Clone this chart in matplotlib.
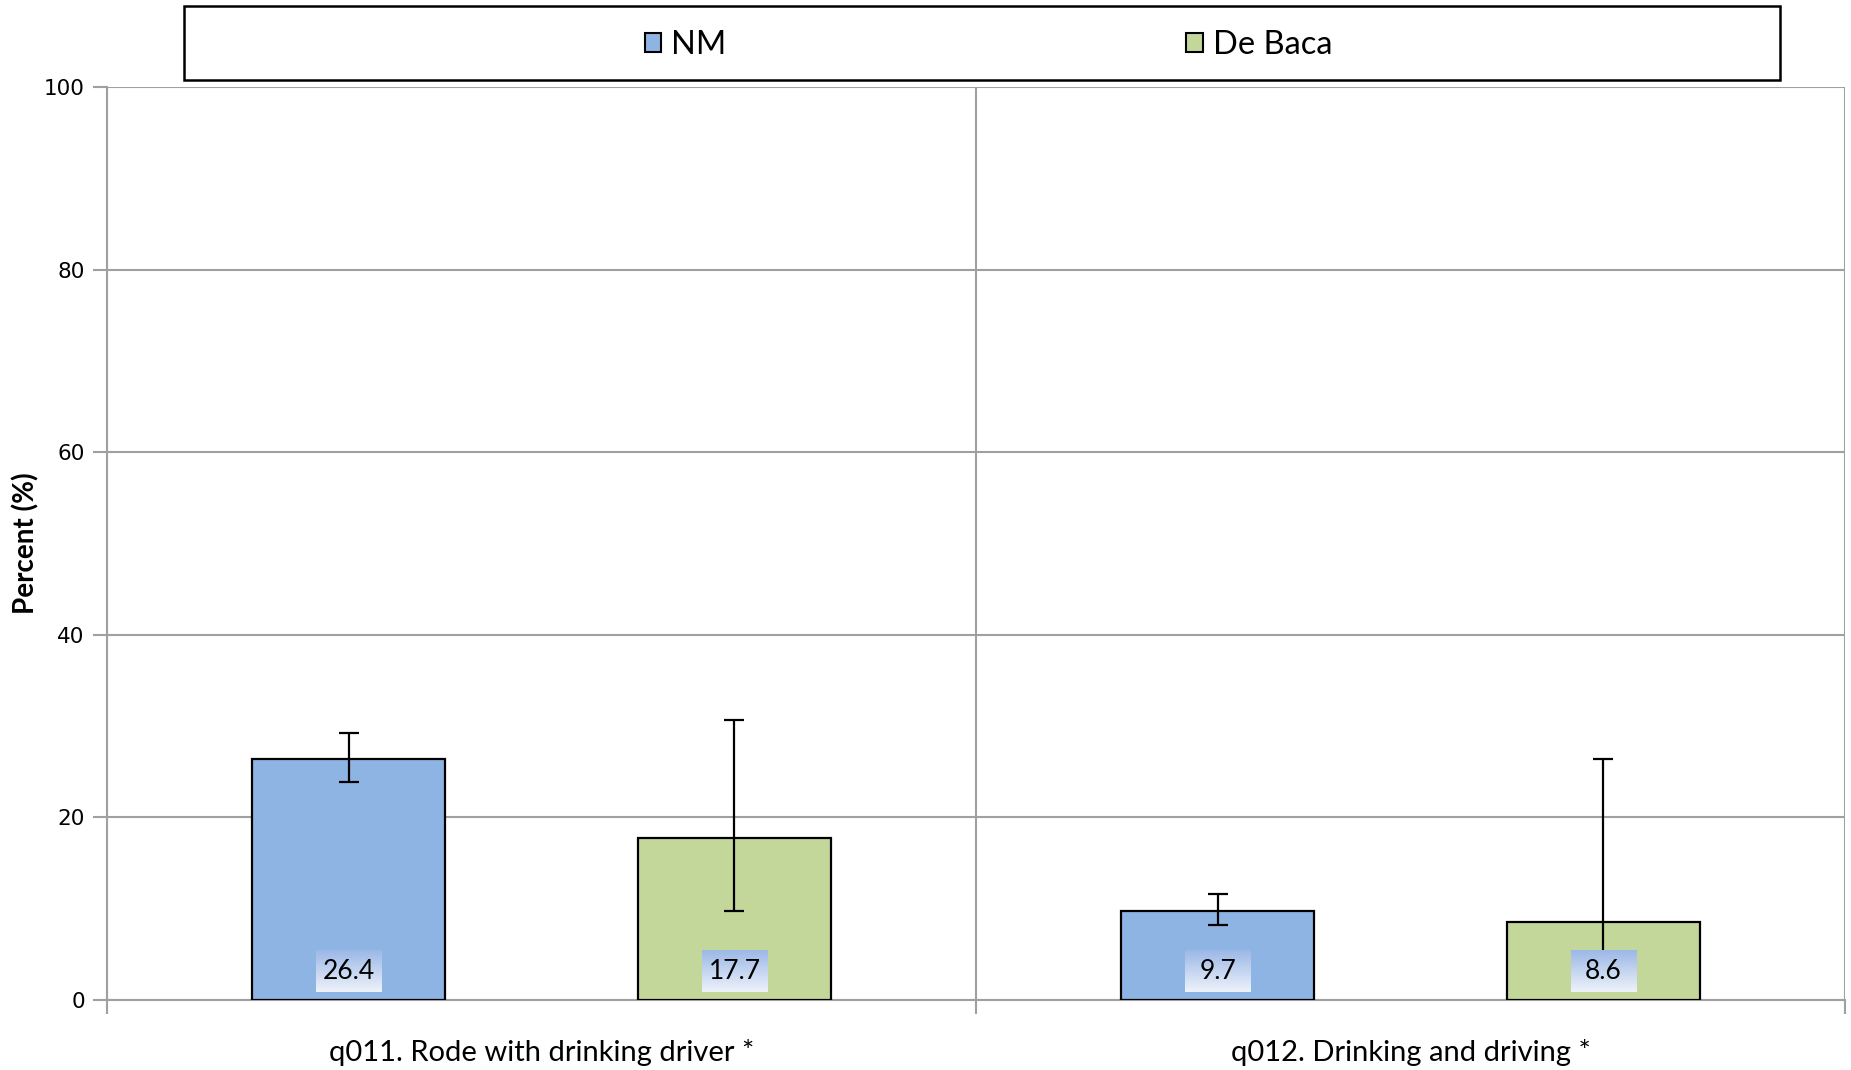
import matplotlib.pyplot as plt
import numpy as np
from matplotlib.patches import Rectangle

# %% data
categories = ["q011. Rode with drinking driver *", "q012. Drinking and driving *"]
series = ["NM", "De Baca"]
nm_values = [26.4, 9.7]
nm_lower = [23.9, 8.2]
nm_upper = [29.2, 11.6]
debaca_values = [17.7, 8.6]
debaca_lower = [9.7, 2.0]
debaca_upper = [30.7, 26.4]
yticks = [0, 20, 40, 60, 80, 100]

colors = ["#8EB4E3", "#C4D79B"]
grid_c = "#A0A0A0"
label_font = "Lato"

# %% plot
fig = plt.figure(figsize=(18.51, 10.70), dpi=100)
ax = fig.add_axes([0.0578, 0.0654, 0.939, 0.8533])

x = np.arange(len(categories))
width = 0.2215
offset = 0.222
groups = [
    (nm_values, nm_lower, nm_upper, -offset, colors[0], series[0]),
    (debaca_values, debaca_lower, debaca_upper, offset, colors[1], series[1]),
]

grad = np.linspace(0, 1, 64).reshape(-1, 1)
cmap = plt.matplotlib.colors.LinearSegmentedColormap.from_list(
    "g", ["#eef2fb", "#9bb8e6"])

for vals, lo, hi, off, col, name in groups:
    vals = np.array(vals)
    err = np.array([vals - np.array(lo), np.array(hi) - vals])
    ax.bar(x + off, vals, width, color=col, edgecolor="black", linewidth=1.6,
           label=name, zorder=3)
    ax.errorbar(x + off, vals, yerr=err, fmt="none", ecolor="black",
                elinewidth=1.6, capsize=7, capthick=1.6, zorder=4)
    # value labels with gradient box
    for xi, v in zip(x + off, vals):
        ax.imshow(grad, cmap=cmap, aspect="auto", origin="lower",
                  extent=[xi - 0.0375, xi + 0.0375, 0.9, 5.4], zorder=5)
        ax.text(xi, 3.1, f"{v:.1f}", ha="center", va="center", fontsize=19,
                family=label_font, zorder=6)

ax.set_xlim(-0.5, 1.5)
ax.set_ylim(0, 100)
ax.set_yticks(yticks)
ax.tick_params(axis="y", labelsize=15.5, length=10, color=grid_c, width=1.5, pad=6)
ax.set_xticks(x)
ax.set_xticklabels(categories, fontsize=21, family=label_font)
ax.tick_params(axis="x", which="major", length=0, pad=28)
ax.set_xticks([-0.5, 0.5, 1.5], minor=True)
ax.tick_params(axis="x", which="minor", length=10, color=grid_c, width=1.5)

ax.grid(axis="y", color=grid_c, linewidth=1.5, zorder=0)
ax.grid(axis="x", which="minor", color=grid_c, linewidth=1.5, zorder=0)
for side in ["top", "right"]:
    ax.spines[side].set_visible(False)
for side in ["left", "bottom"]:
    ax.spines[side].set_color(grid_c)
    ax.spines[side].set_linewidth(1.5)
ax.set_axisbelow(True)

ax.set_ylabel("Percent (%)", fontsize=20, fontweight="bold", family=label_font)
ax.yaxis.set_label_coords(-0.039, 0.5)

# legend box
fig.patches.append(Rectangle((0.0994, 0.925), 0.8623, 0.0692, transform=fig.transFigure,
                             facecolor="white", edgecolor="black", linewidth=1.8))
leg = fig.legend(loc="center", bbox_to_anchor=(0.534, 0.958), ncol=2, frameon=False,
                 handlelength=0.51, handleheight=0.51, handletextpad=0.3,
                 columnspacing=14.1, prop={"family": label_font, "size": 23.5})
for h in leg.legend_handles:
    h.set_linewidth(1.5)

fig.savefig("out.png", dpi=100)
